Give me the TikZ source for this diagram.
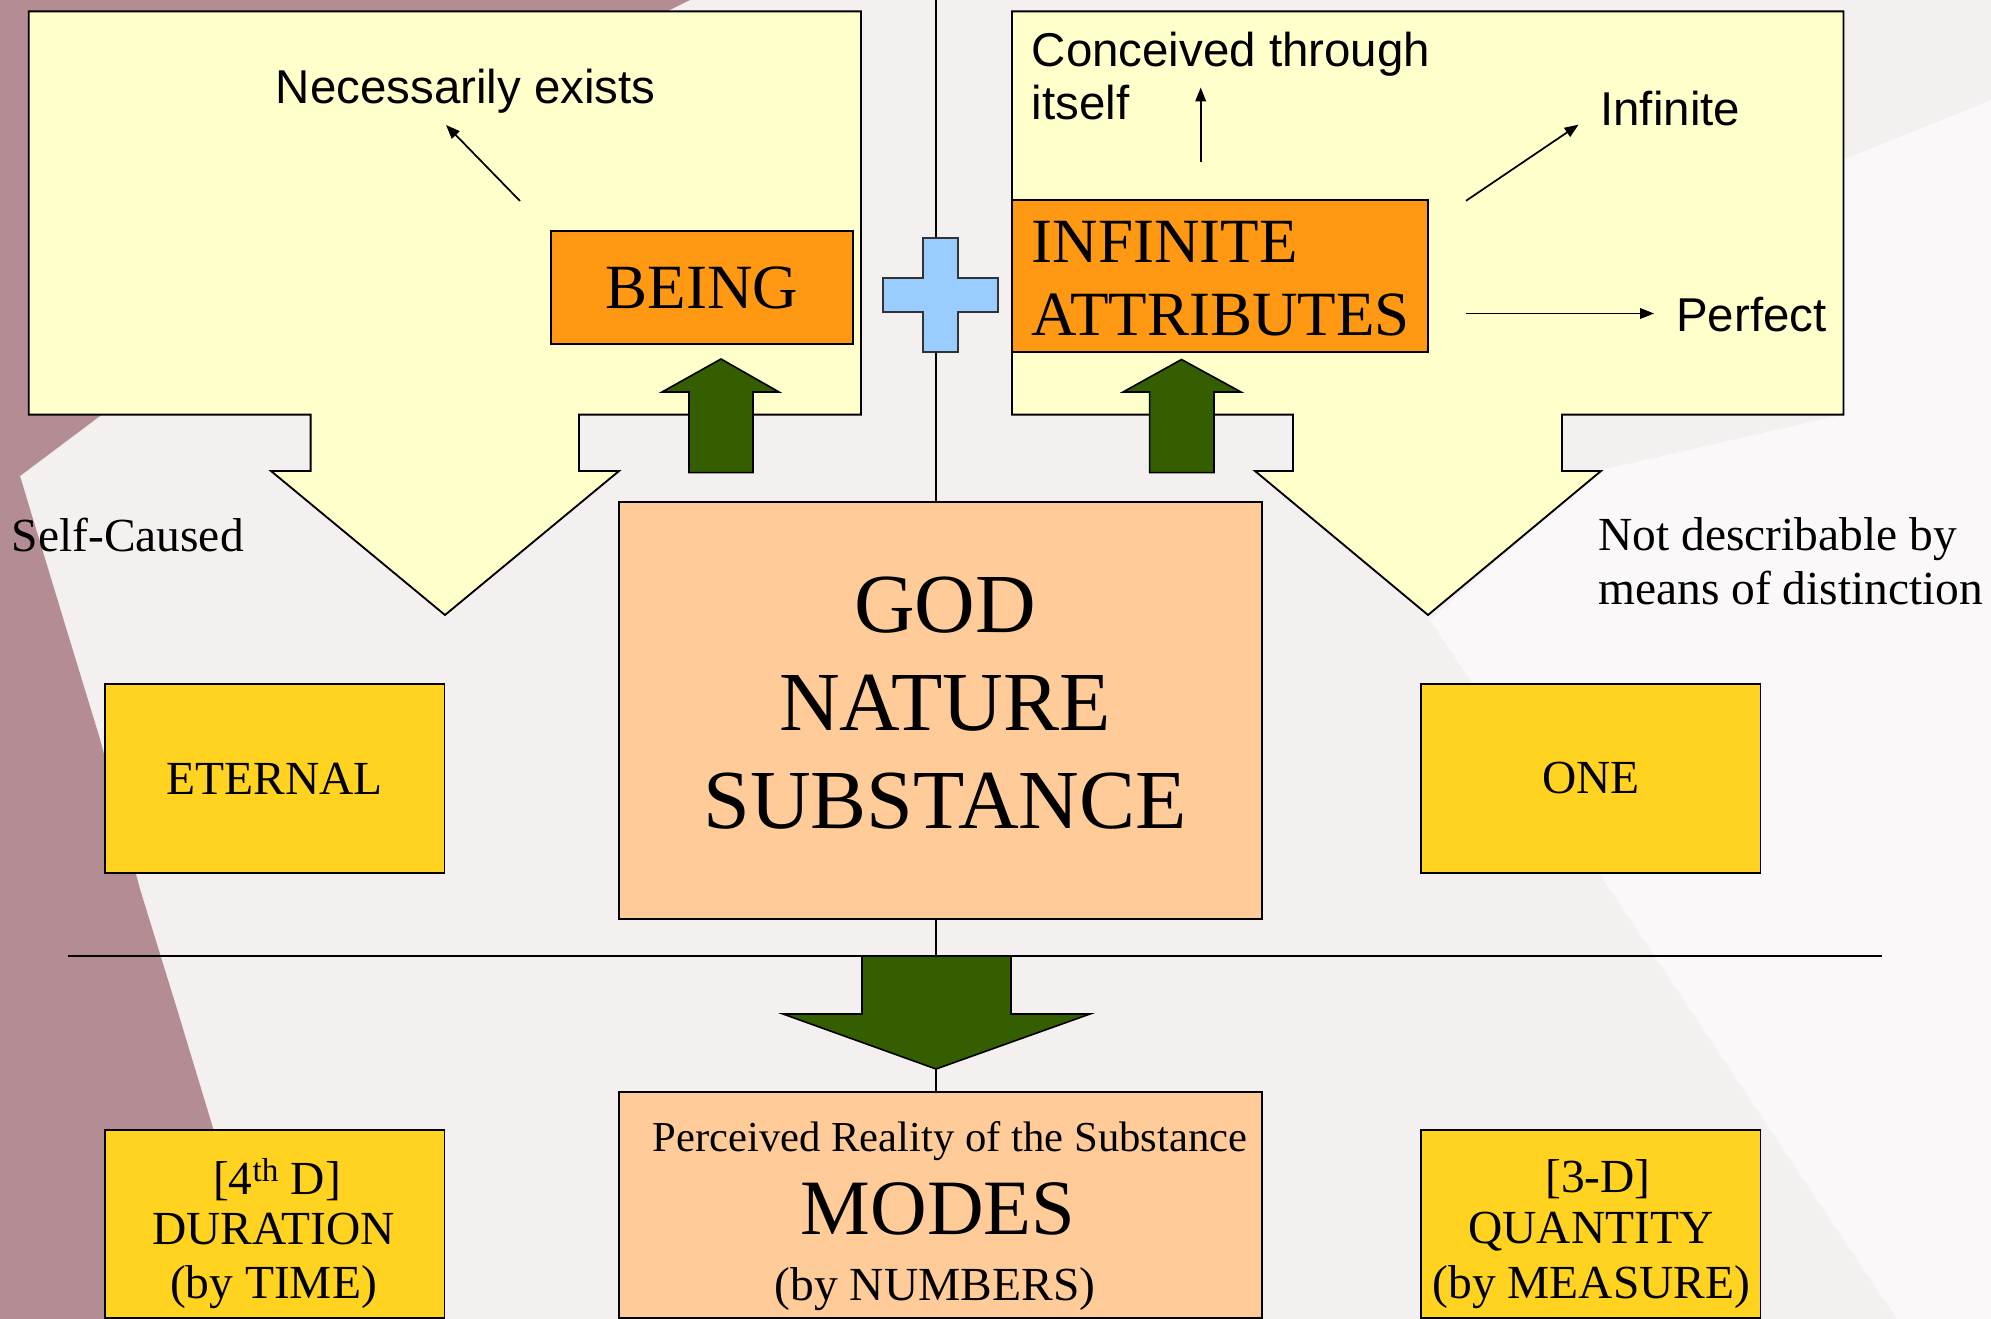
\documentclass[tikz,border=0pt]{standalone}
\usepackage{fontspec}
\setmainfont{Liberation Serif}
\setsansfont{Liberation Sans}
\usetikzlibrary{arrows.meta}
\definecolor{bgbase}{RGB}{244,240,240}
\definecolor{bgwhite}{RGB}{250,248,248}
\definecolor{mauve}{RGB}{180,140,148}
\definecolor{calloutfill}{RGB}{255,255,204}
\definecolor{orangebox}{RGB}{255,153,20}
\definecolor{peach}{RGB}{255,204,153}
\definecolor{goldbox}{RGB}{255,211,32}
\definecolor{darkgreen}{RGB}{52,94,0}
\definecolor{lightblue}{RGB}{153,204,255}
\begin{document}
\begin{tikzpicture}[x=0.75pt,y=-0.75pt,
  outline/.style={draw=black, line width=1.4pt},
  box/.style={outline, inner sep=0pt, anchor=center},
  calloutshape/.style={outline, fill=calloutfill, line join=miter},
  greenarrow/.style={draw=black, line width=1.2pt, fill=darkgreen},
  link/.style={draw=black, line width=1.4pt},
  pointer/.style={draw=black, line width=1.3pt, -{Triangle[length=10.5pt,width=8pt]}},
  sanstxt/.style={inner sep=0pt, font=\sffamily\fontsize{35.6pt}{42pt}\selectfont},
  seriftxt/.style={inner sep=0pt, font=\fontsize{35.6pt}{42pt}\selectfont},
  bigtxt/.style={inner sep=0pt, font=\fontsize{47.25pt}{55pt}\selectfont},
  godtxt/.style={inner sep=0pt, font=\fontsize{63pt}{72pt}\selectfont},
  modestxt/.style={inner sep=0pt, font=\fontsize{58.8pt}{68pt}\selectfont},
  smalltxt/.style={inner sep=0pt, font=\fontsize{32pt}{38pt}\selectfont}
]
\useasboundingbox (0,0) rectangle (1991,1319);
% background
\fill[bgbase] (0,0) rectangle (1991,1319);
\fill[bgwhite] (1843,160) -- (1991,100) -- (1991,1319) -- (1897,1319) -- (1430,620) -- (1601,470) -- (1843,414.6) -- cycle;
\fill[mauve] (0,0) -- (690,0) -- (662,14) -- (300,14) -- (120,400) -- (100,416) -- (20,476) -- (67,631) -- (100,739) -- (140,889) -- (177,1009) -- (213,1128) -- (271,1319) -- (0,1319) -- cycle;

% call-out shapes
\draw[calloutshape] (28.7,11.4) -- (861,11.4) -- (861,414.6) -- (579,414.6) -- (579,471) -- (619,471) -- (445,615) -- (271,471) -- (310.6,471) -- (310.6,414.6) -- (28.7,414.6) -- cycle;
\draw[calloutshape] (1012,11.4) -- (1843.5,11.4) -- (1843.5,414.6) -- (1562,414.6) -- (1562,471) -- (1601,471) -- (1428,615) -- (1255,471) -- (1293,471) -- (1293,414.6) -- (1012,414.6) -- cycle;

% coordinates for the central line
\coordinate (ctop) at (936,0);
\coordinate (hlL) at (68,956);
\coordinate (hlR) at (1882,956);

% boxes
\node[box, fill=orangebox, minimum width=226.5pt, minimum height=85.3pt, font=\fontsize{47.25pt}{55pt}\selectfont] (being) at (702,287.5) {BEING};
\node[box, fill=orangebox, minimum width=312pt, minimum height=114pt] (attr) at (1220,276) {};
\node[box, fill=peach, minimum width=482.6pt, minimum height=312.75pt] (god) at (940.3,710.5) {};
\node[box, fill=peach, minimum width=482.6pt, minimum height=169.2pt] (modes) at (940.3,1205.2) {};
\node[box, fill=goldbox, minimum width=254.6pt, minimum height=141.75pt, font=\fontsize{35.6pt}{42pt}\selectfont] (eternal) at (274.75,778.5) {ETERNAL};
\node[box, fill=goldbox, minimum width=254.6pt, minimum height=141.75pt, font=\fontsize{35.6pt}{42pt}\selectfont] (one) at (1590.8,778.5) {ONE};
\node[box, fill=goldbox, minimum width=254.6pt, minimum height=141pt] (duration) at (274.75,1224) {};
\node[box, fill=goldbox, minimum width=254.6pt, minimum height=141pt] (quantity) at (1590.8,1224) {};

% central vertical connectors and horizontal rule
\draw[link] (ctop) -- (ctop |- god.north);
\draw[link] (god.south -| ctop) -- (ctop |- hlL);
\draw[link] (hlL) -- (hlR);
\coordinate (downtip) at (936,1069);
\draw[link] (downtip) -- (modes.north -| downtip);

% blue plus sign
\draw[draw=black!80, line width=1.2pt, fill=lightblue] (923,238) -- (958,238) -- (958,278) -- (998,278) -- (998,312) -- (958,312) -- (958,352) -- (923,352) -- (923,312) -- (883,312) -- (883,278) -- (923,278) -- cycle;

% green block arrows
\draw[greenarrow] (689,472.6) -- (689,392) -- (662,392) -- (721,359) -- (779,392) -- (753,392) -- (753,472.6) -- cycle;
\draw[greenarrow] (1149.6,472.6) -- (1149.6,392) -- (1123,392) -- (1181.5,359.5) -- (1241,392) -- (1214,392) -- (1214,472.6) -- cycle;
\draw[greenarrow] (862,956) -- (1011,956) -- (1011,1014) -- (1090,1014) -- (downtip) -- (783,1014) -- (862,1014) -- cycle;

% texts
\node[sanstxt, anchor=base west] (tnec) at (275.5,104) {Necessarily exists};
\node[sanstxt, anchor=base west] (tconc1) at (1031.5,67) {Conceived through};
\node[sanstxt, anchor=base west] (tconc2) at (1031.5,120) {itself};
\node[sanstxt, anchor=base west] (tinf) at (1600,126) {Infinite};
\node[sanstxt, anchor=base west] (tperf) at (1676,332) {Perfect};
\node[seriftxt, anchor=base west] (tself) at (11.5,551) {Self-Caused};
\node[seriftxt, anchor=base west] (tnot1) at (1598,550) {Not describable by};
\node[seriftxt, anchor=base west] (tnot2) at (1598,604) {means of distinction};

\node[bigtxt, anchor=base west] (tattr1) at (1031.5,263) {INFINITE};
\node[bigtxt, anchor=base west] (tattr2) at (1031.5,336) {ATTRIBUTES};

\node[godtxt, anchor=base] (tgod1) at (945,632) {GOD};
\node[godtxt, anchor=base] (tgod2) at (945,730) {NATURE};
\node[godtxt, anchor=base] (tgod3) at (945,828) {SUBSTANCE};

\node[smalltxt, anchor=base] (tmod1) at (950,1151) {Perceived Reality of the Substance};
\node[modestxt, anchor=base] (tmod2) at (938,1234) {MODES};
\node[seriftxt, anchor=base] (tmod3) at (935,1300) {(by NUMBERS)};

\node[seriftxt, anchor=base] (tdur1) at (277,1194) {[4\textsuperscript{th} D]};
\node[seriftxt, anchor=base] (tdur2) at (273.5,1244) {DURATION};
\node[seriftxt, anchor=base] (tdur3) at (273.5,1298) {(by TIME)};

\node[seriftxt, anchor=base] (tqua1) at (1598,1192) {[3-D]};
\node[seriftxt, anchor=base] (tqua2) at (1591,1243) {QUANTITY};
\node[seriftxt, anchor=base] (tqua3) at (1591.5,1298) {(by MEASURE)};

% small pointer arrows
\coordinate (pnecA) at (520,201);
\coordinate (pnecB) at (446,125);
\coordinate (pconcA) at (1200.7,162.5);
\coordinate (pconcB) at (1200.7,87.5);
\coordinate (pinfA) at (1466,200.8);
\coordinate (pinfB) at (1578.6,124.6);
\coordinate (pperfA) at (1466,313.5);
\coordinate (pperfB) at (1654,313.5);
\draw[pointer] (pnecA) -- (pnecB);
\draw[pointer] (pconcA) -- (pconcB);
\draw[pointer] (pinfA) -- (pinfB);
\draw[pointer] (pperfA) -- (pperfB);
\end{tikzpicture}
\end{document}
